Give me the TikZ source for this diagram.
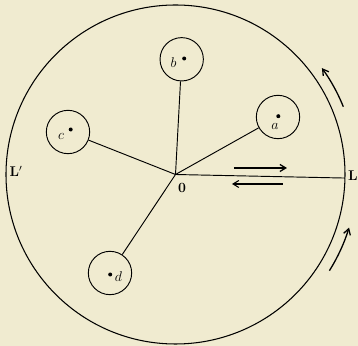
\documentclass[tikz,border=0pt]{standalone}
\usepackage{amsmath}
\usepackage{tikz}
\usetikzlibrary{arrows.meta}
\definecolor{paper}{RGB}{240,235,208}

\begin{document}
\begin{tikzpicture}[x=0.03cm, y=0.03cm,
    ink/.style = {line width=0.8pt},
    sphere/.style = {draw, circle, line width=0.8pt, minimum size=37, inner sep=0pt},
    pt/.style = {fill, circle, inner sep=0pt, minimum size=3.4pt},
    flow/.style = {line width=1.1pt, -{Straight Barb[length=5pt, width=6pt]}}]
\fill[paper] (-175.5,-171.5) rectangle (182.5,174.5);
\useasboundingbox (-175.5,-171.5) rectangle (182.5,174.5);

   \draw[line width=0.9pt] (0,0) circle (169.5);
   \coordinate (O) at (0,0);
   \coordinate (Lend) at (-1.2:169.5);

   % the four small spheres
   \node[sphere] (a) at (102.5,57.5) {};
   \node[sphere] (b) at (6.2,115.2) {};
   \node[sphere] (c) at (-107.5,42.5) {};
   \node[sphere] (d) at (-65.5,-98.5) {};

   \node[pt] (pa) at (102.8,58.3) {};
   \node[pt] (pb) at (8.7,116) {};
   \node[pt] (pc) at (-104.8,45) {};
   \node[pt] (pd) at (-65.3,-100) {};
   \node (la) at (99.5,48) {\large $a$};
   \node (lb) at (-2,112) {\large $b$};
   \node (lc) at (-114.5,38.5) {\large $c$};
   \node (ld) at (-57,-102.5) {\large $d$};

   \draw[ink] (O) -- (a);
   \draw[ink] (O) -- (b);
   \draw[ink] (O) -- (c);
   \draw[ink] (O) -- (d);
   \draw[ink] (O) -- (Lend);

   \node (lO) at (6.5,-13.5) {\large\bfseries 0};
   \node[anchor=east, inner sep=0pt] (lL) at (182.3,-1.5) {\large\bfseries L};
   \node (lLp) at (-159.5,3.5) {\large\bfseries L$'$};

   % currents
   \draw[flow] (58.5,6.5) -- (111.5,6.5);
   \draw[flow, line width=0.9pt] (107.5,-9.5) -- (56.5,-9.5);
   \draw[flow] (22:181) arc (22:36:181);
   \draw[flow] (-32:181.5) arc (-32:-17:181.5);
\end{tikzpicture}
\end{document}
